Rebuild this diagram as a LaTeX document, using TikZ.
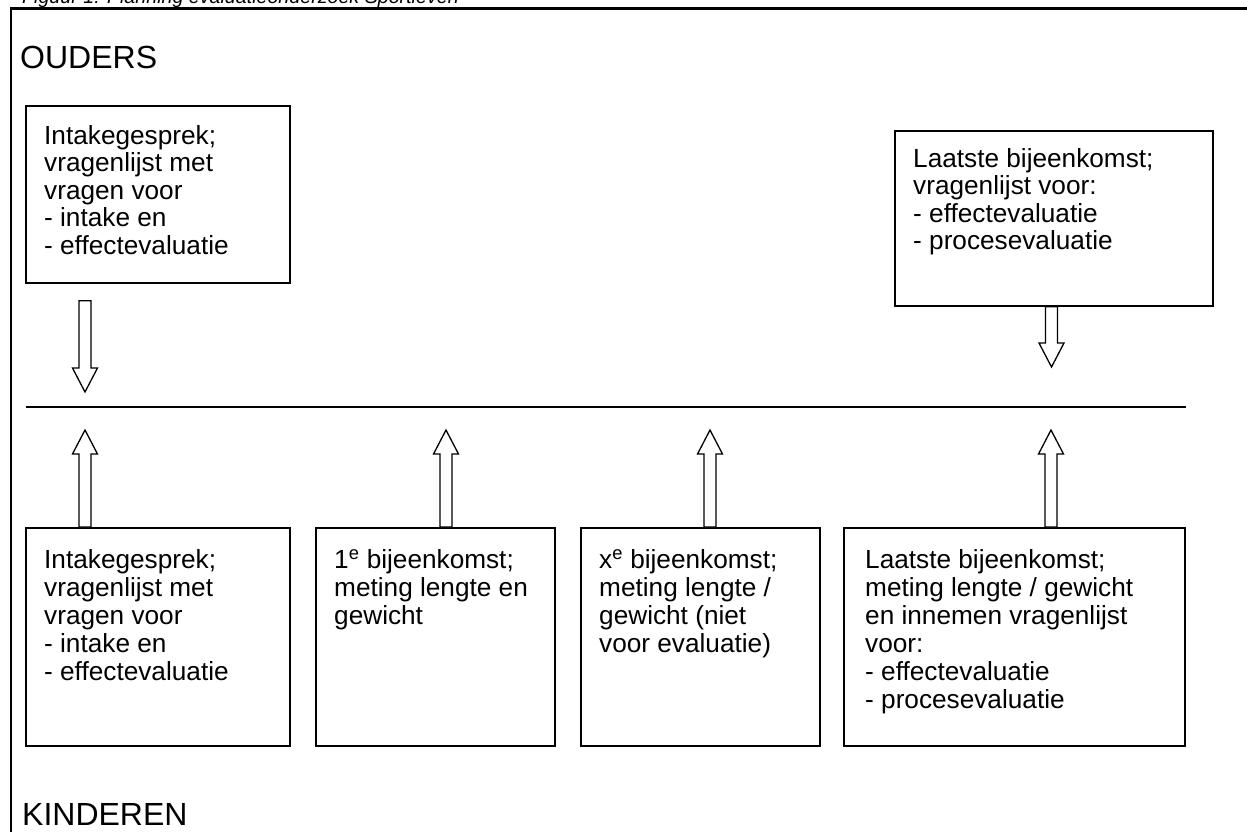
\documentclass[tikz,border=0pt]{standalone}
\usepackage{fontspec}
\setmainfont{Liberation Sans}
\usetikzlibrary{calc}
\newcommand{\fl}{\rule{0pt}{20pt}}
\newcommand{\hollowarrow}[3]{%
  \path[arrowline] let \p1=(#1), \p2=(#2) in
   (\x1-6pt,\y1) -- (\x1-6pt,\y2#324pt) -- (\x1-12.5pt,\y2#324pt) -- (\x2,\y2)
   -- (\x1+12.5pt,\y2#324pt) -- (\x1+6pt,\y2#324pt) -- (\x1+6pt,\y1) -- cycle;}
\begin{document}
\lineskiplimit=-50pt
\begin{tikzpicture}[x=1pt,y=-1pt,
  box/.style={draw, line width=1.8pt, rectangle, inner sep=0pt, anchor=north west},
  txt/.style={anchor=north west, inner sep=0pt, align=left},
  toptxt/.style={txt, font=\fontsize{26.2}{27.5}\selectfont},
  bottxt/.style={txt, font=\fontsize{26.2}{28}\selectfont},
  head/.style={anchor=base west, inner sep=0pt, font=\fontsize{32}{36}\selectfont},
  arrowline/.style={draw, line width=1.3pt, fill=white, line join=miter},
]
\useasboundingbox (0,0) rectangle (1247,831);
\clip (0,0) rectangle (1247,831);

% caption (cut off at the top, as in the reference)
\node[anchor=base west, inner sep=0pt, font=\fontsize{19.65}{22}\selectfont\itshape] (caption) at (22,3) {Figuur 1: Planning evaluatieonderzoek Sportieven};

% outer frame
\draw[line width=2.5pt, line join=miter] (10.8,860) -- (10.8,8.5) -- (1270,8.5);

\node[head] (ouders) at (20,68) {OUDERS};
\node[head] (kinderen) at (22,825) {KINDEREN};

% top boxes
\node[box, minimum width=264pt, minimum height=177pt] (ob1) at (25,105) {};
\node[toptxt] (ob1t) at (44,124) {\fl Intakegesprek;\\vragenlijst met\\vragen voor\\- intake en\\- effectevaluatie};
\node[box, minimum width=318pt, minimum height=175pt] (ob2) at (894,130) {};
\node[toptxt] (ob2t) at (913,147) {\fl Laatste bijeenkomst;\\vragenlijst voor:\\- effectevaluatie\\- procesevaluatie};

% bottom boxes
\node[box, minimum width=264pt, minimum height=218pt] (kb1) at (25,527) {};
\node[bottxt] (kb1t) at (44,548) {\fl Intakegesprek;\\vragenlijst met\\vragen voor\\- intake en\\- effectevaluatie};
\node[box, minimum width=239pt, minimum height=218pt] (kb2) at (315,527) {};
\node[bottxt] (kb2t) at (334,548) {\fl 1\textsuperscript{e} bijeenkomst;\\meting lengte en\\gewicht};
\node[box, minimum width=239pt, minimum height=218pt] (kb3) at (580,527) {};
\node[bottxt] (kb3t) at (599,548) {\fl x\textsuperscript{e} bijeenkomst;\\meting lengte /\\gewicht (niet\\voor evaluatie)};
\node[box, minimum width=341pt, minimum height=218pt] (kb4) at (843,527) {};
\node[bottxt] (kb4t) at (865,548) {\fl Laatste bijeenkomst;\\meting lengte / gewicht\\en innemen vragenlijst\\voor:\\- effectevaluatie\\- procesevaluatie};

% time line
\coordinate (tlA) at (26,407);
\coordinate (tlB) at (1186,407);
\draw[line width=2pt] (tlA) -- (tlB);

% arrow tips
\coordinate (d1) at (85,392);
\coordinate (d2) at (1051.5,367);
\coordinate (u1) at (85,430);
\coordinate (u2) at (446,430);
\coordinate (u3) at (710,430);
\coordinate (u4) at (1051,430);

\hollowarrow{$(ob1.south west)+(60,17)$}{d1}{+}
\hollowarrow{$(ob2.south west)+(157.5,0)$}{d2}{+}
\hollowarrow{$(kb1.north west)+(60,0)$}{u1}{-}
\hollowarrow{$(kb2.north west)+(131,0)$}{u2}{-}
\hollowarrow{$(kb3.north west)+(130,0)$}{u3}{-}
\hollowarrow{$(kb4.north west)+(208,0)$}{u4}{-}
\end{tikzpicture}
\end{document}
